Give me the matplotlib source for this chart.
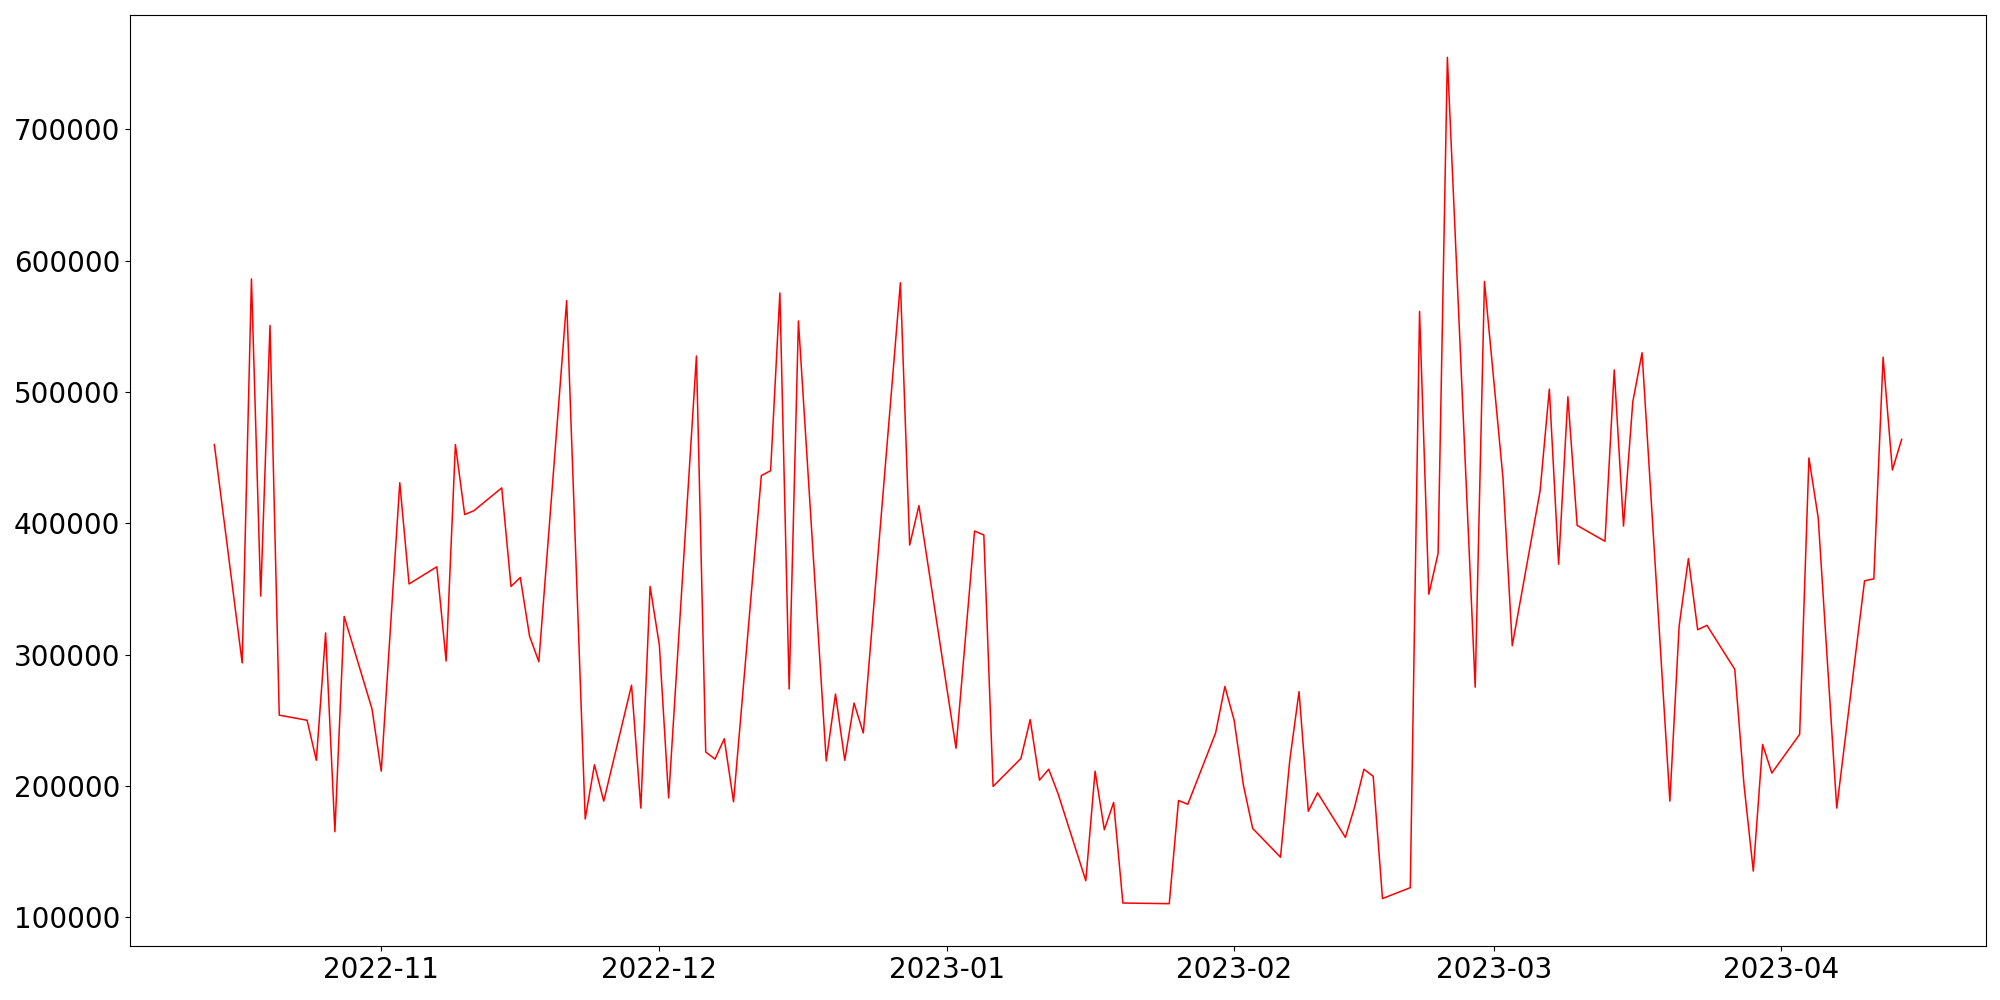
import matplotlib
matplotlib.use("Agg")
import matplotlib.pyplot as plt
import pandas as pd

dates = [
    "2022-10-14", "2022-10-17", "2022-10-18", "2022-10-19", "2022-10-20", "2022-10-21",
    "2022-10-24", "2022-10-25", "2022-10-26", "2022-10-27", "2022-10-28",
    "2022-10-31", "2022-11-01", "2022-11-03", "2022-11-04",
    "2022-11-07", "2022-11-08", "2022-11-09", "2022-11-10", "2022-11-11",
    "2022-11-14", "2022-11-15", "2022-11-16", "2022-11-17", "2022-11-18",
    "2022-11-21", "2022-11-23", "2022-11-24", "2022-11-25",
    "2022-11-28", "2022-11-29", "2022-11-30", "2022-12-01", "2022-12-02",
    "2022-12-05", "2022-12-06", "2022-12-07", "2022-12-08", "2022-12-09",
    "2022-12-12", "2022-12-13", "2022-12-14", "2022-12-15", "2022-12-16",
    "2022-12-19", "2022-12-20", "2022-12-21", "2022-12-22", "2022-12-23",
    "2022-12-27", "2022-12-28", "2022-12-29",
    "2023-01-02", "2023-01-04", "2023-01-05", "2023-01-06",
    "2023-01-09", "2023-01-10", "2023-01-11", "2023-01-12", "2023-01-13",
    "2023-01-16", "2023-01-17", "2023-01-18", "2023-01-19", "2023-01-20",
    "2023-01-25", "2023-01-26", "2023-01-27",
    "2023-01-30", "2023-01-31", "2023-02-01", "2023-02-02", "2023-02-03",
    "2023-02-06", "2023-02-07", "2023-02-08", "2023-02-09", "2023-02-10",
    "2023-02-13", "2023-02-14", "2023-02-15", "2023-02-16", "2023-02-17",
    "2023-02-20", "2023-02-21", "2023-02-22", "2023-02-23", "2023-02-24",
    "2023-02-27", "2023-02-28", "2023-03-02", "2023-03-03",
    "2023-03-06", "2023-03-07", "2023-03-08", "2023-03-09", "2023-03-10",
    "2023-03-13", "2023-03-14", "2023-03-15", "2023-03-16", "2023-03-17",
    "2023-03-20", "2023-03-21", "2023-03-22", "2023-03-23", "2023-03-24",
    "2023-03-27", "2023-03-28", "2023-03-29", "2023-03-30", "2023-03-31",
    "2023-04-03", "2023-04-04", "2023-04-05", "2023-04-07",
    "2023-04-10", "2023-04-11", "2023-04-12", "2023-04-13", "2023-04-14",
]

values = [
    460000, 293700, 586100, 344600, 550700, 253900,
    250000, 219500, 316500, 165100, 329100,
    258700, 211200, 430900, 353800,
    366900, 295100, 460000, 406700, 409600,
    427000, 351900, 358700, 314000, 294600,
    569600, 174800, 216100, 188400,
    276700, 183100, 351900, 307200, 190800,
    527400, 225800, 220400, 235900, 187900,
    436300, 440100, 575400, 273800, 554100,
    219000, 269900, 219500, 263100, 240300,
    583200, 383400, 413500,
    228700, 394100, 391100, 199600,
    220900, 250500, 204400, 212700, 194200,
    127800, 211200, 166600, 187400, 110800,
    110300, 188900, 186000,
    240300, 275700, 250000, 200500, 167600,
    145700, 219500, 271800, 180700, 194700,
    160800, 184100, 212700, 207300, 114200,
    122500, 561400, 346000, 377100, 754900,
    275200, 584200, 434300, 306800,
    424600, 502200, 368800, 496400, 398400,
    386300, 516800, 397900, 492500, 529900,
    188400, 321800, 373200, 318900, 322300,
    288800, 200500, 135100, 231600, 209800,
    239300, 449800, 404200, 183100,
    356200, 357700, 526500, 440600, 463900,
]

x = pd.to_datetime(dates)

fig, ax = plt.subplots(figsize=(20, 10), dpi=100)
ax.plot(x, values, color="red", linewidth=1.1)
ax.tick_params(axis="both", labelsize=20)
fig.subplots_adjust(left=0.065, right=0.993, top=0.985, bottom=0.054)
fig.savefig("out.png", dpi=100)
